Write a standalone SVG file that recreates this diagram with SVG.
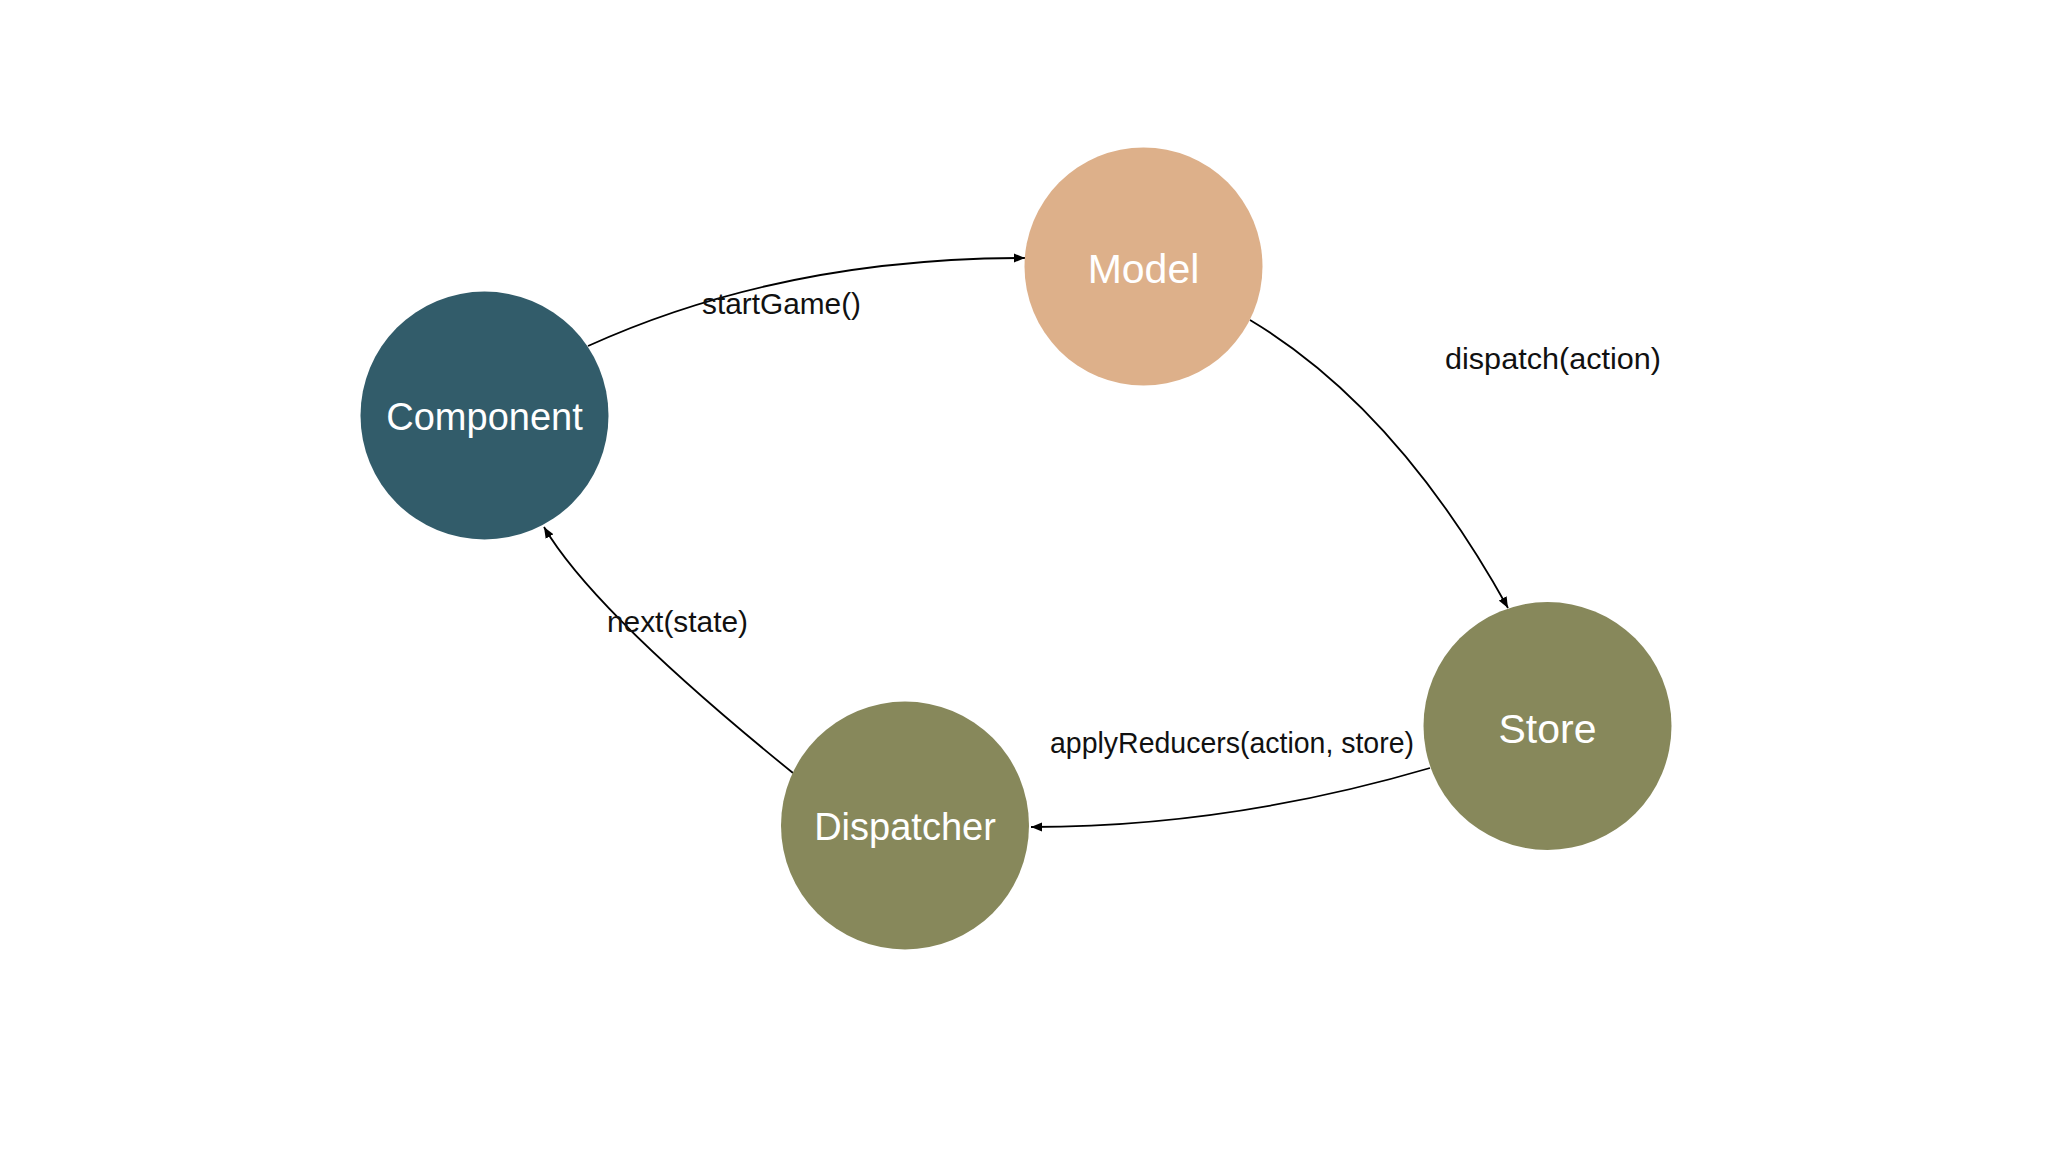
<svg xmlns="http://www.w3.org/2000/svg" width="2048" height="1152" viewBox="0 0 2048 1152">
<style>
.node-label{font-family:"Liberation Sans",Arial,sans-serif;font-size:38px;fill:#ffffff;text-anchor:middle}
.big{font-size:41px}
.edge-label{font-family:"Liberation Sans",Arial,sans-serif;font-size:30px;fill:#111111}
.edge{fill:none;stroke:#000000;stroke-width:1.8}
</style>
<defs>
<marker id="arrow" markerUnits="userSpaceOnUse" markerWidth="12" markerHeight="10" refX="11" refY="5" orient="auto">
<path d="M0,0.5 L11,5 L0,9.5 z" fill="#000000"/>
</marker>
</defs>
<rect width="2048" height="1152" fill="#ffffff"/>
<g id="connectors">
<path class="edge" d="M588,346 Q782,258 1025,258" marker-end="url(#arrow)"/>
<path class="edge" d="M1250,320 Q1397,408 1508,608" marker-end="url(#arrow)"/>
<path class="edge" d="M1430,768 Q1229,827 1031,827" marker-end="url(#arrow)"/>
<path class="edge" d="M793,773 Q593.6,611.5 544,527" marker-end="url(#arrow)"/>
<text class="edge-label" x="702" y="314" textLength="159" lengthAdjust="spacingAndGlyphs">startGame()</text>
<text class="edge-label" x="1445" y="369" textLength="216" lengthAdjust="spacingAndGlyphs">dispatch(action)</text>
<text class="edge-label" x="1050" y="753" textLength="364" lengthAdjust="spacingAndGlyphs">applyReducers(action, store)</text>
<text class="edge-label" x="607" y="632" textLength="141" lengthAdjust="spacingAndGlyphs">next(state)</text>
</g>
<g id="node-component">
<circle cx="484.5" cy="415.5" r="124" fill="#325C6A"/>
<text class="node-label" x="484.5" y="430">Component</text>
</g>
<g id="node-model">
<circle cx="1143.5" cy="266.5" r="119" fill="#DDB08A"/>
<text class="node-label big" x="1143.5" y="283">Model</text>
</g>
<g id="node-store">
<circle cx="1547.5" cy="726" r="124" fill="#87885B"/>
<text class="node-label big" x="1547.5" y="743">Store</text>
</g>
<g id="node-dispatcher">
<circle cx="905" cy="825.5" r="124" fill="#87885B"/>
<text class="node-label" x="905" y="840">Dispatcher</text>
</g>
</svg>
